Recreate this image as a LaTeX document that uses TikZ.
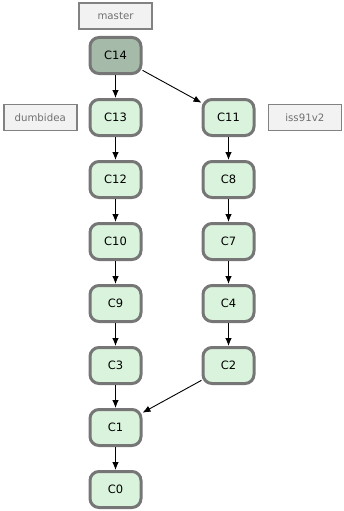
\documentclass[tikz,border=0pt]{standalone}
\usepackage{fontspec}
\setmainfont{DejaVu Sans}
\usepackage{tikz}
\usetikzlibrary{arrows.meta, positioning}
\definecolor{cmtFill}{RGB}{218,243,220}
\definecolor{headFill}{RGB}{165,186,168}
\definecolor{cmtLine}{RGB}{118,118,118}
\definecolor{refFill}{RGB}{242,242,242}
\definecolor{refLine}{RGB}{130,130,130}
\definecolor{refText}{RGB}{112,112,112}
\tikzset{
  cmt/.style={draw=cmtLine, line width=3pt, rounded corners=9pt, fill=#1,
              minimum width=51pt, minimum height=36pt, inner sep=0pt,
              font=\fontsize{11.5}{13}\selectfont},
  cmt/.default=cmtFill,
  ref/.style={draw=refLine, line width=1.6pt, fill=refFill, text=refText,
              minimum width=73pt, minimum height=26pt, inner sep=0pt,
              font=\fontsize{10.2}{12}\selectfont},
}

\begin{document}
\begin{tikzpicture}[
    link/.style={-{Latex[length=8pt,width=6.5pt]}, line width=0.9pt, black}
]
  \useasboundingbox (0,0) rectangle (344pt,-511pt);

  % left line
  \node[cmt=headFill] (c14) at (115.5pt,-55.5pt) {C14};
  \node[cmt, below=23pt of c14] (c13) {C13};
  \node[cmt, below=23pt of c13] (c12) {C12};
  \node[cmt, below=23pt of c12] (c10) {C10};
  \node[cmt, below=23pt of c10] (c9) {C9};
  \node[cmt, below=23pt of c9] (c3) {C3};
  \node[cmt, below=23pt of c3] (c1) {C1};
  \node[cmt, below=23pt of c1] (c0) {C0};

  % right line
  \node[cmt, right=59pt of c13] (c11) {C11};
  \node[cmt, below=23pt of c11] (c8) {C8};
  \node[cmt, below=23pt of c8] (c7) {C7};
  \node[cmt, below=23pt of c7] (c4) {C4};
  \node[cmt, below=23pt of c4] (c2) {C2};

  \draw[link] (c14) -- (c13);
  \draw[link] (c13) -- (c12);
  \draw[link] (c12) -- (c10);
  \draw[link] (c10) -- (c9);
  \draw[link] (c9) -- (c3);
  \draw[link] (c3) -- (c1);
  \draw[link] (c1) -- (c0);
  \draw[link] (c14) -- (c11);
  \draw[link] (c11) -- (c8);
  \draw[link] (c8) -- (c7);
  \draw[link] (c7) -- (c4);
  \draw[link] (c4) -- (c2);
  \draw[link] (c2) -- (c1);

  \node[ref, above=6pt of c14] (master) {master};
  \node[ref, left=11pt of c13] (dumbidea) {dumbidea};
  \node[ref, right=12pt of c11] (iss91v2) {iss91v2};
\end{tikzpicture}
\end{document}
